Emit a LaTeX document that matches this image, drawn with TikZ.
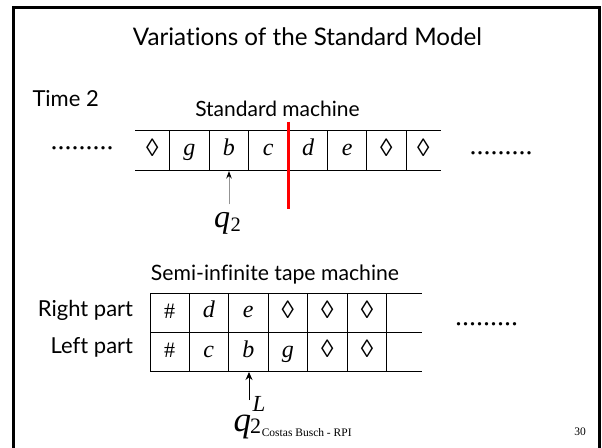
\documentclass[tikz,border=0pt]{standalone}
\usepackage{fontspec}
\setmainfont{Liberation Serif}
\newfontfamily\gill[Ligatures=NoCommon]{Lato}
\usetikzlibrary{arrows.meta}

\begin{document}
\begin{tikzpicture}[x=1pt,y=-1pt,
  lbl/.style={font=\gill\fontsize{22}{22}\selectfont, inner sep=0pt},
  sym/.style={font=\fontsize{24}{24}\selectfont\itshape, inner sep=0pt, anchor=base},
  upsym/.style={font=\fontsize{22}{22}\selectfont, inner sep=0pt, anchor=base},
  loz/.style={font=\fontsize{25}{25}\selectfont, inner sep=0pt, anchor=base},
  dots/.style={font=\fontsize{28}{28}\selectfont, inner sep=0pt, anchor=base},
  tape/.style={line width=1pt},
  head/.style={line width=1pt, -{Stealth[black,length=7.5pt,width=5.5pt]}},
  foot/.style={font=\fontsize{11.5}{11.5}\selectfont, inner sep=0pt}]
\useasboundingbox (0,0) rectangle (602,447);

% slide frame
\draw[line width=2.5pt] (13.5,460) -- (13.5,7.3) -- (599.5,7.3) -- (599.5,460);

% headings
\node[lbl, font=\gill\fontsize{24.2}{24.2}\selectfont, anchor=base] (title) at (307.5,45.7) {Variations of the Standard Model};
\node[lbl, anchor=base west] (time) at (32.3,106.7) {Time 2};
\node[lbl, font=\gill\fontsize{21}{21}\selectfont, anchor=base] (stdname) at (277.5,116) {Standard machine};

% standard two-way infinite tape
\draw[tape] (135,130.7) -- (440.7,130.7) (135,170.5) -- (440.7,170.5);
\foreach \x in {169.3,209.3,248.3,288.3,327.7,366.7,406}
  \draw[tape] (\x,130.7) -- (\x,170.5);
\node[loz] (s1) at (152.2,156) {◊};
\node[sym] (s2) at (189.3,155.5) {g};
\node[sym] (s3) at (228.8,155.5) {b};
\node[sym] (s4) at (268.3,155.5) {c};
\node[sym] (s5) at (308,155.5) {d};
\node[sym] (s6) at (347.2,155.5) {e};
\node[loz] (s7) at (386.4,156) {◊};
\node[loz] (s8) at (423.4,156) {◊};
\node[dots] (ldots) at (82.2,149.5) {.........};
\node[dots] (rdots) at (501,154.5) {.........};

% fold position
\coordinate (cutT) at (288.3,121.7);
\coordinate (cutB) at (288.3,209.3);
\draw[red, line width=2.7pt] (cutT) -- (cutB);

% head of the standard machine
\node[inner sep=0pt, anchor=base west, font=\fontsize{32}{32}\selectfont\itshape] (q1) at (214,227.7) {q};
\node[inner sep=0pt, anchor=base west, font=\fontsize{20.5}{20.5}\selectfont] (q1s) at (q1.base east) [yshift=-4pt] {2};
\coordinate (t1) at (229,204.3);
\coordinate (h1) at (229,171);
\draw[head, gray!85] (t1) -- (h1);

% semi-infinite tape with two tracks
\node[lbl, font=\gill\fontsize{21.2}{21.2}\selectfont, anchor=base] (semname) at (275,280) {Semi-infinite tape machine};
\node[lbl, anchor=base east] (rpart) at (133.3,316.7) {Right part};
\node[lbl, anchor=base east] (lpart) at (133.3,353.3) {Left part};
\draw[tape] (150,293) -- (421.7,293) (150,332.5) -- (421.7,332.5) (150,371.5) -- (421.7,371.5);
\foreach \x in {150,189.3,228.3,268.3,307.3,347.3,386.7}
  \draw[tape] (\x,293) -- (\x,371.5);
\node[upsym] (r1) at (169.65,318) {\#};
\node[sym]   (r2) at (208.8,317.5) {d};
\node[sym]   (r3) at (248.3,317.5) {e};
\node[loz]   (r4) at (287.8,318) {◊};
\node[loz]   (r5) at (327.3,318) {◊};
\node[loz]   (r6) at (367,318) {◊};
\node[upsym] (l1) at (169.65,357.5) {\#};
\node[sym]   (l2) at (208.8,357) {c};
\node[sym]   (l3) at (248.3,357) {b};
\node[sym]   (l4) at (287.8,357) {g};
\node[loz]   (l5) at (327.3,357.5) {◊};
\node[loz]   (l6) at (367,357.5) {◊};
\node[dots] (sdots) at (486.7,325.5) {.........};

% head of the semi-infinite machine
\node[inner sep=0pt, anchor=base west, font=\fontsize{35}{35}\selectfont\itshape] (q2) at (233.5,431) {q};
\node[inner sep=0pt, anchor=base west, font=\fontsize{22}{22}\selectfont] (q2s) at (250,433.3) {2};
\node[inner sep=0pt, anchor=base west, font=\fontsize{23}{23}\selectfont\itshape] (q2L) at (252.5,411.7) {L};
\coordinate (t2) at (249,400);
\coordinate (h2) at (249,372);
\draw[head, black, -{Stealth[black,length=8pt,width=7pt]}] (t2) -- (h2);

% footer
\node[foot, anchor=base] (author) at (306.7,436) {Costas Busch - RPI};
\node[foot, anchor=base east] (page) at (586,435.7) {30};
\end{tikzpicture}
\end{document}
